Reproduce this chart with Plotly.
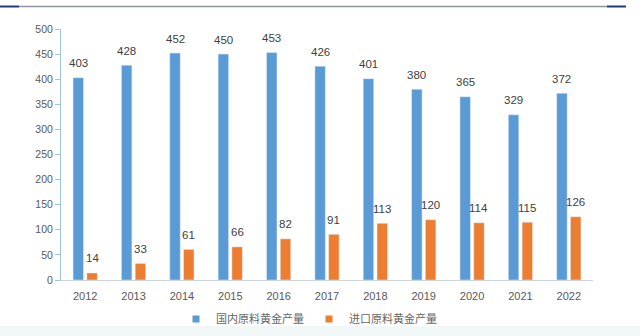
import plotly.graph_objects as go

years = ["2012", "2013", "2014", "2015", "2016", "2017", "2018", "2019", "2020", "2021", "2022"]
domestic = [403, 428, 452, 450, 453, 426, 401, 380, 365, 329, 372]
imported = [14, 33, 61, 66, 82, 91, 113, 120, 114, 115, 126]
name_dom = "国内原料黄金产量"
name_imp = "进口原料黄金产量"
blue = "#5B9BD5"
orange = "#ED7D31"

fig = go.Figure()
fig.add_bar(x=years, y=domestic, name=name_dom, marker_color=blue, showlegend=False)
fig.add_bar(x=years, y=imported, name=name_imp, marker_color=orange, showlegend=False)
# legend entries with small square markers
fig.add_scatter(x=[None], y=[None], mode="markers", name=name_dom,
                marker=dict(symbol="square", size=7, color=blue))
fig.add_scatter(x=[None], y=[None], mode="markers", name=name_imp,
                marker=dict(symbol="square", size=7, color=orange))

lab_font = dict(family="Liberation Sans, Arial", size=11.5, color="#404040")
for i, v in enumerate(domestic):
    fig.add_annotation(x=i, y=v, text=str(v), showarrow=False, xshift=-6.9,
                       yshift=14.5, yanchor="middle", font=lab_font)
for i, v in enumerate(imported):
    fig.add_annotation(x=i, y=v, text=str(v), showarrow=False, xshift=6.9,
                       yshift=14.5, yanchor="middle", font=lab_font)

W, H = 640, 336
L, R, T, B = 61, 47, 29, 56
pw, ph = W - L - R, H - T - B
def px(x):
    return (x - L) / pw
def py(y):
    return (H - B - y) / ph

shapes = [
    dict(type="rect", xref="paper", yref="paper", x0=px(0), x1=px(640), y0=py(336), y1=py(326),
         fillcolor="#F1F6F7", line_width=0, layer="below"),
    dict(type="line", xref="paper", yref="paper", x0=px(19), x1=px(607), y0=py(6.5), y1=py(6.5),
         line=dict(color="#8C939C", width=1.5)),
    dict(type="line", xref="paper", yref="paper", x0=px(0), x1=px(19), y0=py(6.5), y1=py(6.5),
         line=dict(color="#22397A", width=2)),
    dict(type="line", xref="paper", yref="paper", x0=px(607), x1=px(626), y0=py(6.5), y1=py(6.5),
         line=dict(color="#22397A", width=2)),
]

fig.update_layout(
    width=W, height=H,
    margin=dict(l=L, r=R, t=T, b=B, pad=0, autoexpand=False),
    paper_bgcolor="white", plot_bgcolor="white",
    barmode="group", bargap=0.43, bargroupgap=0.24,
    shapes=shapes,
    legend=dict(orientation="h", xref="paper", x=px(309), xanchor="center",
                yref="paper", y=py(319), yanchor="middle",
                font=dict(family="Noto Sans CJK SC", size=11, color="#666666"),
                bgcolor="rgba(0,0,0,0)", itemwidth=30, tracegroupgap=0),
    xaxis=dict(type="category", categoryorder="array", categoryarray=years,
               range=[-0.5, len(years) - 0.5],
               showline=True, linecolor="#C9D6E2", linewidth=1, showgrid=False,
               ticks="", ticklabelstandoff=6,
               tickfont=dict(family="Liberation Sans, Arial", size=11, color="#595959")),
    yaxis=dict(range=[0, 500], tickvals=list(range(0, 501, 50)), showline=True,
               linecolor="#9DC3E6", linewidth=1, ticks="outside", ticklen=5,
               tickcolor="#9DC3E6", showgrid=False, zeroline=False,
               tickfont=dict(family="Liberation Sans, Arial", size=10.5, color="#595959")),
)

fig.write_html("out.html")
